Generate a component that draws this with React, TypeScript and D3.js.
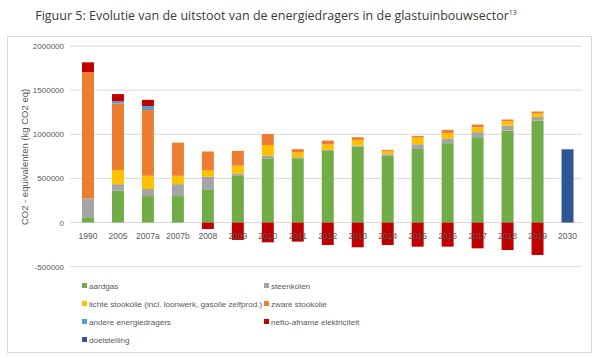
import React from "react";
import * as d3 from "d3";

const categories = ["1990","2005","2007a","2007b","2008","2009","2010","2011","2012","2013","2014","2015","2016","2017","2018","2019","2030"];
const aardgas = [60000,360000,300000,300000,370000,528000,728000,728000,812000,861000,755000,834000,899000,967000,1042000,1155000,0];
const steenkolen = [215000,75000,80000,135000,150000,23000,30000,12000,11000,11000,19000,53000,52000,57000,57000,42000,0];
const lichteStookolie = [0,160000,150000,95000,75000,94000,121000,53000,64000,64000,38000,76000,61000,56000,49000,38000,0];
const zwareStookolie = [1430000,755000,745000,375000,210000,167000,124000,38000,42000,31000,11000,19000,38000,30000,19000,23000,0];
const andere = [0,25000,45000,0,0,0,0,0,0,0,0,0,0,0,0,0,0];
const nettoElektriciteit = [110000,80000,70000,0,-73000,-197000,-224000,-216000,-254000,-280000,-254000,-273000,-273000,-292000,-311000,-367000,0];
const doelstelling = [0,0,0,0,0,0,0,0,0,0,0,0,0,0,0,0,830000];
const yTicks = [-500000,0,500000,1000000,1500000,2000000];

const seriesNames = ["aardgas","steenkolen","lichte stookolie (incl. loonwerk, gasolie zelfprod.)","zware stookolie","andere energiedragers","netto-afname elektriciteit","doelstelling"];
const seriesValues = [aardgas,steenkolen,lichteStookolie,zwareStookolie,andere,nettoElektriciteit,doelstelling];
const colors = ["#70AD47","#A5A5A5","#FFC000","#ED7D31","#5B9BD5","#C00000","#2F5597"];

export default function App() {
  const W = 600, H = 358;
  const x = d3.scaleBand<string>().domain(categories).range([73, 582.5]).paddingInner(0.6).paddingOuter(0.3);
  const y = d3.scaleLinear().domain([-500000, 2000000]).range([266.7, 46]);
  const keys = seriesNames.map((_, i) => "s" + i);
  const rows = categories.map((c, j) => {
    const r: any = { cat: c };
    keys.forEach((k, i) => (r[k] = seriesValues[i][j]));
    return r;
  });
  const stacked = d3.stack<any>().keys(keys).offset(d3.stackOffsetDiverging)(rows);
  const font = "'Liberation Sans', Arial, sans-serif";
  const legendPos = [
    [82, 286], [264, 286], [82, 304], [264, 304], [82, 322], [264, 322], [82, 340],
  ];
  return (
    <svg width={W} height={H} style={{ position: "absolute", left: 0, top: 0, background: "#fff" }} fontFamily={font}>
      <text x={276} y={20} textAnchor="middle" fontFamily="'Open Sans', sans-serif" fontSize={12.5} fill="#3a3a3a">
        Figuur 5: Evolutie van de uitstoot van de energiedragers in de glastuinbouwsector
        <tspan fontSize={7} dy={-5}>13</tspan>
      </text>
      <rect x={7.5} y={36.5} width={584} height={316} fill="#fff" stroke="#d9d9d9" />
      {yTicks.map((t) => (
        <g key={t}>
          <line x1={70} x2={582} y1={y(t)} y2={y(t)} stroke="#d9d9d9" strokeWidth={1} />
          <text x={64} y={y(t) + 3} textAnchor="end" fontSize={8} fill="#595959">{t}</text>
        </g>
      ))}
      {stacked.map((s, i) => (
        <g key={s.key} fill={colors[i]}>
          {s.map((d, j) => {
            const h = Math.abs(y(d[0]) - y(d[1]));
            if (h < 0.01) return null;
            return <rect key={j} x={x(categories[j])} width={x.bandwidth()} y={Math.min(y(d[0]), y(d[1]))} height={h} />;
          })}
        </g>
      ))}
      {categories.map((c) => (
        <text key={c} x={(x(c) as number) + x.bandwidth() / 2} y={239} textAnchor="middle" fontSize={8.5} fill="#595959">{c}</text>
      ))}
      <text transform={`translate(28,157) rotate(-90)`} textAnchor="middle" fontSize={9.5} fill="#595959">
        CO2 - equivalenten (kg CO2 eq)
      </text>
      {seriesNames.map((n, i) => (
        <g key={n}>
          <rect x={legendPos[i][0]} y={legendPos[i][1] - 3} width={5} height={5} fill={colors[i]} />
          <text x={legendPos[i][0] + 7} y={legendPos[i][1] + 2.5} fontSize={8.1} fill="#595959">{n}</text>
        </g>
      ))}
    </svg>
  );
}
